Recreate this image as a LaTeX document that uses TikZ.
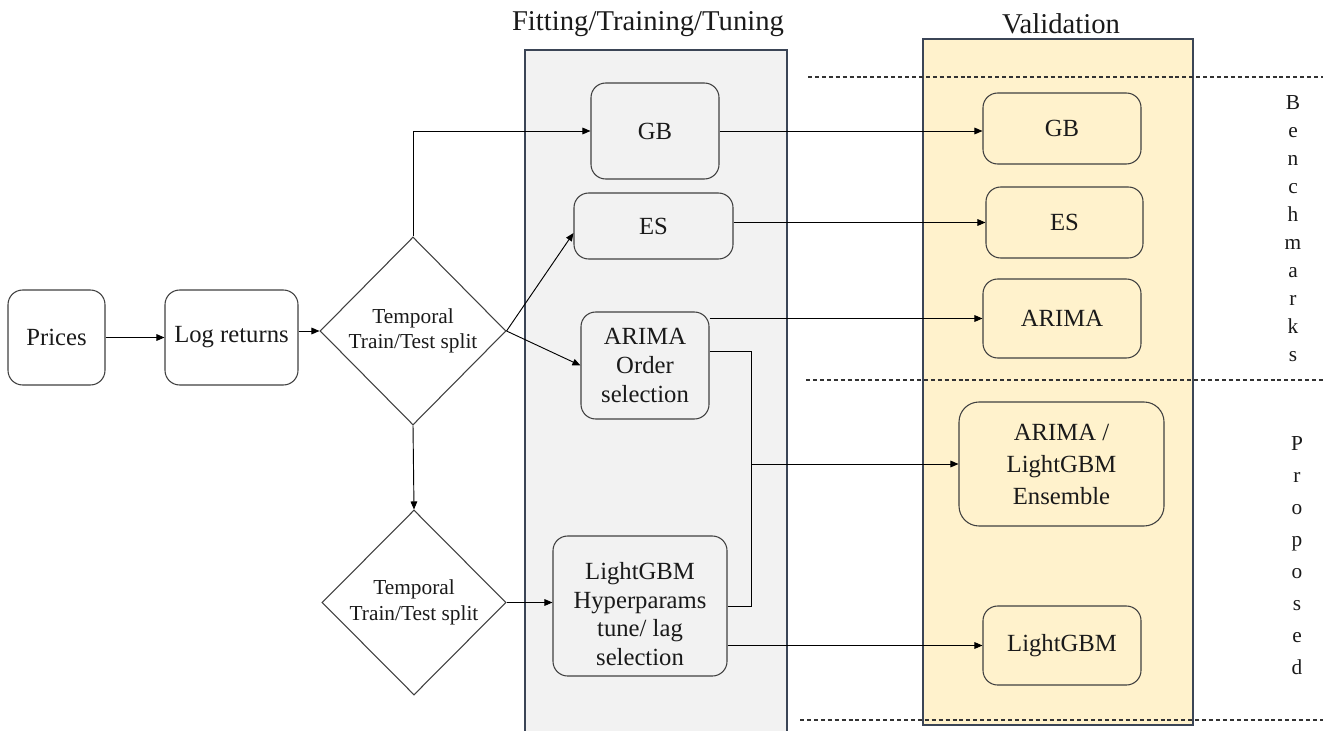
\documentclass[tikz,border=0pt]{standalone}
\usepackage{fontspec}
\setmainfont{Liberation Serif}
\usetikzlibrary{shapes.geometric,arrows.meta,calc}
\definecolor{panelgray}{HTML}{F2F2F2}
\definecolor{panelyellow}{HTML}{FFF2CC}
\definecolor{panelline}{HTML}{3B4556}
\definecolor{boxline}{HTML}{404040}
\definecolor{txt}{HTML}{1A1A1A}
\begin{document}
\begin{tikzpicture}[x=0.75pt,y=-0.75pt,
  box/.style={draw=boxline, line width=0.8pt, rounded corners=11pt, inner sep=0pt, align=center, text=txt, font=\fontsize{18.5}{21.5}\selectfont},
  dia/.style={draw=boxline, line width=0.8pt, diamond, inner sep=0pt},
  dtext/.style={align=center, text=txt, font=\fontsize{16}{19}\selectfont},
  arr/.style={draw=black, line width=0.7pt, -{Triangle[length=6pt,width=5pt]}},
  conn/.style={draw=black, line width=0.7pt},
  paneltitle/.style={text=txt, font=\fontsize{21.5}{24}\selectfont},
  sepline/.style={draw=black!80, line width=0.8pt, dash pattern=on 3pt off 2.2pt},
  vert/.style={align=center, text=txt, font=\fontsize{16}{21}\selectfont}
]
\useasboundingbox (0,0) rectangle (1323,731);

% panels
\path[fill=panelgray, draw=panelline, line width=0.9pt] (525,50) rectangle (787,736);
\path[fill=panelyellow, draw=panelline, line width=0.9pt] (923,39) rectangle (1193,725);
\node[paneltitle] (t1) at (648,24) {Fitting/Training/Tuning};
\node[paneltitle] (t2) at (1061,24) {Validation};

% dashed separators
\coordinate (s1a) at (808,77);  \coordinate (s1b) at (1323,77);
\coordinate (s2a) at (806,380); \coordinate (s2b) at (1323,380);
\coordinate (s3a) at (800,720); \coordinate (s3b) at (1323,720);
\draw[sepline] (s1a) -- (s1b);
\draw[sepline] (s2a) -- (s2b);
\draw[sepline] (s3a) -- (s3b);

% left column
\node[box, fill=white, minimum width=97*0.75pt, minimum height=95*0.75pt] (prices) at (56.5,337.5) {Prices};
\node[box, fill=white, minimum width=133*0.75pt, minimum height=95*0.75pt] (logret) at (231.5,337.5) {Log returns};
\node[dia, minimum width=186*0.75pt, minimum height=188*0.75pt] (d1) at (413,331) {};
\node[dtext] (d1t) at (d1) {Temporal\\Train/Test split};
\node[dia, minimum width=184*0.75pt, minimum height=185*0.75pt] (d2) at (414,602.5) {};
\node[dtext] (d2t) at (d2) {Temporal\\Train/Test split};

% fitting column
\node[box, minimum width=128*0.75pt, minimum height=96*0.75pt] (fgb) at (655,131) {GB};
\node[box, minimum width=159*0.75pt, minimum height=66*0.75pt] (fes) at (653.5,226) {ES};
\node[box, minimum width=128*0.75pt, minimum height=107*0.75pt] (far) at (645,365.5) {ARIMA\\Order\\selection};
\node[box, minimum width=174*0.75pt, minimum height=140*0.75pt] (flg) at (640,606) {};
\node[dtext, font=\fontsize{18.5}{21.5}\selectfont] (flgt) at (640,614) {LightGBM\\Hyperparams\\tune/ lag\\selection};

% validation column
\node[box, minimum width=158*0.75pt, minimum height=71*0.75pt] (vgb) at (1062,128.5) {GB};
\node[box, minimum width=157*0.75pt, minimum height=71*0.75pt] (ves) at (1064.5,222.5) {ES};
\node[box, minimum width=158*0.75pt, minimum height=79*0.75pt] (var) at (1062,318.5) {ARIMA};
\node[box, rounded corners=15pt, minimum width=205*0.75pt, minimum height=124*0.75pt, font=\fontsize{18.5}{24}\selectfont] (ens) at (1061.5,464) {ARIMA /\\LightGBM\\Ensemble};
\node[box, minimum width=158*0.75pt, minimum height=79*0.75pt] (vlg) at (1062,645.5) {LightGBM};

% side labels
\node[vert] (bench) at (1293,229) {B\\e\\n\\c\\h\\m\\a\\r\\k\\s};
\node[vert, font=\fontsize{16}{24}\selectfont] (prop) at (1297,556) {P\\r\\o\\p\\o\\s\\e\\d};

% connectors
\draw[arr] (prices) -- (logret);
\draw[arr] (logret.east |- d1.west) -- (d1.west);
\draw[arr] (d1.north) |- (fgb.west);
\draw[arr] (d1.east) -- ([yshift=-5.25pt]fes.west);
\draw[arr] (d1.east) -- (far.west);
\draw[arr] (d1.south) -- (d2.north);
\draw[arr] (d2.east) -- (d2.east -| flg.west);

\draw[arr] (fgb.east) -- (fgb.east -| vgb.west);
\draw[arr] (ves.west -| fes.east) -- (ves.west);
\draw[arr] (far.east |- var.west) -- (var.west);

\coordinate (j) at (751,464);
\draw[conn] ([yshift=10.9pt]far.east) -| (j);
\draw[conn] (flg.east) -| (j);
\draw[arr] (j) -- (j -| ens.west);
\draw[arr] (flg.east |- vlg.west) -- (vlg.west);
\end{tikzpicture}
\end{document}
